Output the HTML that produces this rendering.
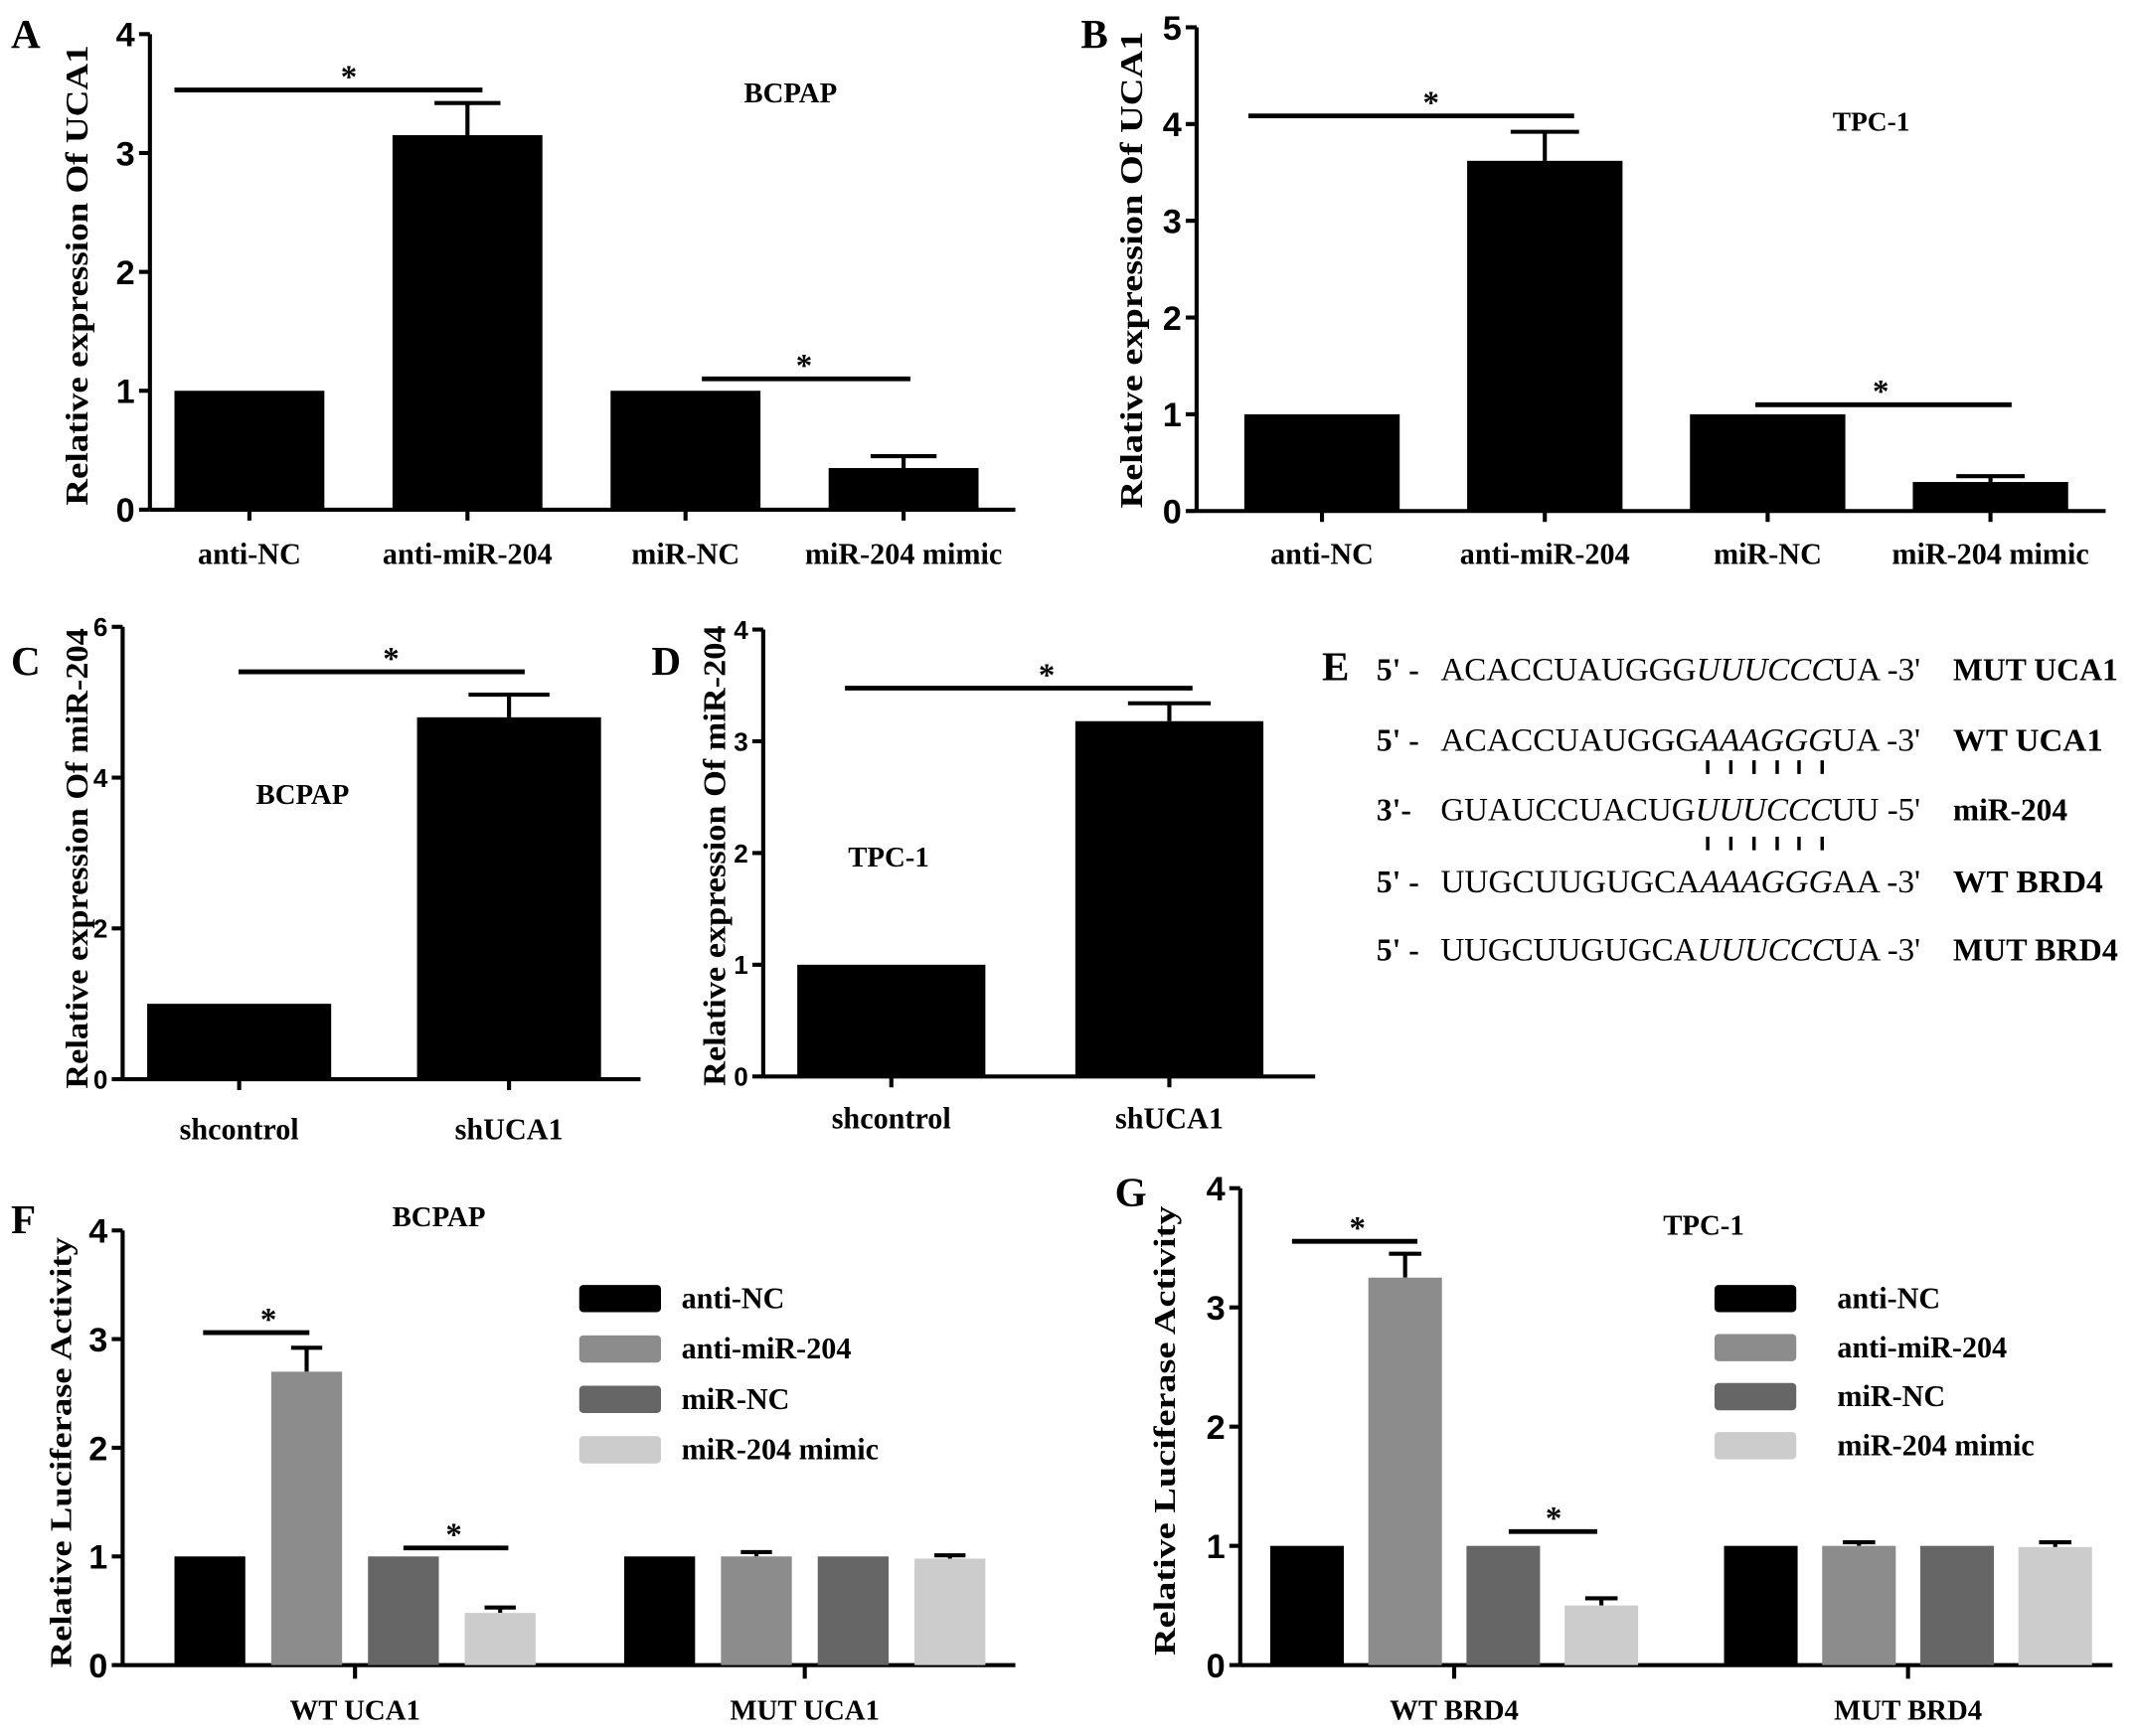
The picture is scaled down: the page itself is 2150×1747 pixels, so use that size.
<!DOCTYPE html>
<html><head><meta charset="utf-8"><style>
html,body{margin:0;padding:0;background:#fff}
svg{display:block}
text{font-family:"Liberation Serif",serif;font-weight:bold;fill:#000}
</style></head><body>
<svg id="fig" width="2150" height="1747" viewBox="0 0 1568 1274" xmlns="http://www.w3.org/2000/svg">
<g>
<text x="970" y="499" font-size="30">E</text>
<g font-size="23">
<text x="1010" y="499">5' -</text>
<text class="seq" data-w="352" transform="translate(1057,499)" font-size="24" style="font-weight:normal">ACACCUAUGGG<tspan font-style="italic">UUUCCC</tspan>UA -3'</text>
<text class="seq" data-w="121" transform="translate(1433,499)">MUT UCA1</text>
<text x="1010" y="551">5' -</text>
<text class="seq" data-w="352" transform="translate(1057,551)" font-size="24" style="font-weight:normal">ACACCUAUGGG<tspan font-style="italic">AAAGGG</tspan>UA -3'</text>
<text class="seq" data-w="110" transform="translate(1433,551)">WT  UCA1</text>
<text x="1010" y="602">3'-</text>
<text class="seq" data-w="352" transform="translate(1057,602)" font-size="24" style="font-weight:normal">GUAUCCUACUG<tspan font-style="italic">UUUCCC</tspan>UU -5'</text>
<text class="seq" data-w="84" transform="translate(1433,602)">miR-204</text>
<text x="1010" y="655">5' -</text>
<text class="seq" data-w="352" transform="translate(1057,655)" font-size="24" style="font-weight:normal">UUGCUUGUGCA<tspan font-style="italic">AAAGGG</tspan>AA -3'</text>
<text class="seq" data-w="110" transform="translate(1433,655)">WT  BRD4</text>
<text x="1010" y="705">5' -</text>
<text class="seq" data-w="352" transform="translate(1057,705)" font-size="24" style="font-weight:normal">UUGCUUGUGCA<tspan font-style="italic">UUUCCC</tspan>UA -3'</text>
<text class="seq" data-w="121" transform="translate(1433,705)">MUT BRD4</text>
</g>
<g stroke="#000" stroke-width="2.5">
<path d="M1253 558v10M1270 558v10M1287 558v10M1304 558v10M1320 558v10M1337 558v10M1253 614v10M1270 614v10M1287 614v10M1304 614v10M1320 614v10M1337 614v10"/>
</g>
</g>
</svg>
<script>
// Panel A data
const aCats=["anti-NC","anti-miR-204","miR-NC","miR-204 mimic"];
const aVals=[1,3.15,1,0.35];
const aErr=[0,3.42,0,0.45];
const aTicks=[0,1,2,3,4];
// Panel B data
const bCats=["anti-NC","anti-miR-204","miR-NC","miR-204 mimic"];
const bVals=[1,3.62,1,0.3];
const bErr=[0,3.92,0,0.36];
const bTicks=[0,1,2,3,4,5];
// Panel C data
const cCats=["shcontrol","shUCA1"];
const cVals=[1,4.8];
const cErr=[0,5.1];
const cTicks=[0,2,4,6];
// Panel D data
const dCats=["shcontrol","shUCA1"];
const dVals=[1,3.18];
const dErr=[0,3.34];
const dTicks=[0,1,2,3,4];
// Panel F data
const fGroups=["WT UCA1","MUT UCA1"];
const fSeries=["anti-NC","anti-miR-204","miR-NC","miR-204 mimic"];
const fVals=[[1,2.7,1,0.48],[1,1.0,1,0.98]];
const fErr=[[0,2.92,0,0.53],[0,1.04,0,1.01]];
const fTicks=[0,1,2,3,4];
// Panel G data
const gGroups=["WT BRD4","MUT BRD4"];
const gSeries=["anti-NC","anti-miR-204","miR-NC","miR-204 mimic"];
const gVals=[[1,3.25,1,0.5],[1,1.0,1,0.99]];
const gErr=[[0,3.45,0,0.56],[0,1.03,0,1.03]];
const gTicks=[0,1,2,3,4];

const NS="http://www.w3.org/2000/svg";
const svg=document.getElementById('fig');
document.querySelectorAll('text.seq').forEach(t=>{
  const w=t.getComputedTextLength();
  const tr=t.getAttribute('transform');
  const target=parseFloat(t.getAttribute('data-w'));
  if(w>0)t.setAttribute('transform',tr+` scale(${target/w},1)`);
});
function mk(tag,attrs,parent,txt){const e=document.createElementNS(NS,tag);for(const k in attrs)e.setAttribute(k,attrs[k]);if(txt!==undefined)e.textContent=txt;(parent||svg).appendChild(e);return e;}
const colors=["#000","#8c8c8c","#666","#cccccc"];

function axis(g,P,ticks){
  const ys=v=>P.y0-(v-ticks[0])/(ticks[ticks.length-1]-ticks[0])*(P.y0-P.yTop);
  const yl=mk('line',{x1:P.ax,x2:P.ax,y1:P.y0,y2:P.yTop,stroke:'#000','stroke-width':3},g);
  
  
  const xl=mk('line',{x1:P.ax,x2:P.xEnd,y1:P.y0,y2:P.y0,stroke:'#000','stroke-width':3},g);
  
  
  ticks.forEach(t=>{
    const y=ys(t);
    const tl=mk('line',{x1:P.ax-8,x2:P.ax,y1:y,y2:y,stroke:'#000','stroke-width':3},g);
    
    
    const tx=mk('text',{x:P.ax-11,y:y+(P.tfs||25)*0.36,'text-anchor':'end','font-size':P.tfs||25,style:'font-family:"Liberation Sans",sans-serif'},g,String(t));
    
    
  });
  const lab=mk('text',{transform:`translate(${P.lx},${P.lcy}) rotate(-90)`,'text-anchor':'middle','font-size':P.lfs||23,textLength:P.llen,lengthAdjust:'spacingAndGlyphs'},g,P.ylabel);
  
  
  const pl=mk('text',{x:P.px,y:P.py,'font-size':30},g,P.letter);
  
  
  if(P.title){const t=mk('text',{x:P.tx,y:P.ty,'text-anchor':'middle','font-size':P.tts||21},g,P.title);
    
    }
  return ys;
}
function bar(g,x,w,v,e,ys,col){
  if(e>v){const cx=x+w/2;
    const el=mk('path',{d:`M${cx} ${ys(v)}V${ys(e)}M${cx-w*0.22} ${ys(e)}H${cx+w*0.22}`,stroke:'#000','stroke-width':3,fill:'none'},g);
    
    }
  const r=mk('rect',{x:x,y:ys(v),width:w,height:ys(0)-ys(v),fill:col},g);
  
  
}
function sig(g,x1,x2,y,sx){
  const l=mk('line',{x1:x1,x2:x2,y1:y,y2:y,stroke:'#000','stroke-width':3.5},g);
  
  
  const s=mk('text',{x:sx,y:y-2,'text-anchor':'middle','font-size':24},g,'*');
  
  
}
function simple(P,cats,vals,errs,ticks,sigs){
  const g=mk('g',{});
  
  
  const ys=axis(g,P,ticks);
  cats.forEach((c,i)=>{
    const x=P.x0+i*P.step;
    bar(g,x,P.bw,vals[i],errs[i],ys,'#000');
    const xt=mk('line',{x1:x+P.bw/2,x2:x+P.bw/2,y1:P.y0,y2:P.y0+8,stroke:'#000','stroke-width':3},g);
    
    
    const t=mk('text',{x:x+P.bw/2,y:P.cly,'text-anchor':'middle','font-size':22},g,c);
    
    
  });
  sigs.forEach(s=>sig(g,s[0],s[1],s[2],s[3]));
}
function grouped(P,groups,series,vals,errs,ticks,sigs){
  const g=mk('g',{});
  
  
  const ys=axis(g,P,ticks);
  groups.forEach((gr,gi)=>{
    series.forEach((s,si)=>{
      const x=P.gx[gi]+si*P.step;
      bar(g,x,P.bw,vals[gi][si],errs[gi][si],ys,colors[si]);
    });
    const cx=P.gx[gi]+(3*P.step+P.bw)/2;
    const xt=mk('line',{x1:cx,x2:cx,y1:P.y0,y2:P.y0+10,stroke:'#000','stroke-width':3},g);
    
    
    const t=mk('text',{x:cx,y:P.cly,'text-anchor':'middle','font-size':21},g,gr);
    
    
  });
  series.forEach((s,si)=>{
    const y=P.legY+si*P.legStep;
    const r=mk('rect',{x:P.legX,y:y,width:60,height:20,rx:3,fill:colors[si]},g);
    
    
    const t=mk('text',{x:P.legX+P.legTx,y:y+17,'font-size':22},g,s);
    
    
  });
  sigs.forEach(s=>sig(g,s[0],s[1],s[2],s[3]));
}
simple({letter:'A',px:8,py:35,ax:110,xEnd:745,y0:374,yTop:25,x0:128,step:160,bw:110,cly:414,lx:64,lcy:202,llen:338,ylabel:'Relative expression Of UCA1',title:'BCPAP',tx:580,ty:75},aCats,aVals,aErr,aTicks,[[128,354,66,256],[515,668,278,590]]);
simple({letter:'B',px:793,py:35,ax:878,xEnd:1545,y0:375,yTop:20,x0:913,step:163.5,bw:114,cly:414,lx:838,lcy:198,llen:350,ylabel:'Relative expression Of UCA1',title:'TPC-1',tx:1373,ty:96,tts:20},bCats,bVals,bErr,bTicks,[[916,1155,85,1050],[1288,1476,297,1380]]);
simple({letter:'C',px:8,py:495,ax:90,xEnd:470,y0:792,yTop:460,x0:108,step:198,bw:135,cly:836,lx:64,lcy:630,llen:338,ylabel:'Relative expression Of miR-204',title:'BCPAP',tx:222,ty:590,tfs:19},cCats,cVals,cErr,cTicks,[[175,385,493,287]]);
simple({letter:'D',px:478,py:495,ax:560,xEnd:965,y0:790,yTop:462,x0:585,step:204,bw:138,cly:828,lx:532,lcy:628,llen:338,ylabel:'Relative expression Of miR-204',title:'TPC-1',tx:652,ty:636,tfs:19},dCats,dVals,dErr,dTicks,[[620,875,505,768]]);
grouped({letter:'F',px:8,py:905,ax:90,xEnd:745,y0:1222,yTop:903,gx:[128,458],step:71,bw:52,cly:1262,lx:52,lcy:1066,lfs:22,llen:316,ylabel:'Relative Luciferase Activity',title:'BCPAP',tx:322,ty:900,legX:425,legY:943,legStep:37,legTx:75},fGroups,fSeries,fVals,fErr,fTicks,[[149,227,978,197],[296,373,1136,333]]);
grouped({letter:'G',px:818,py:885,ax:910,xEnd:1550,y0:1222,yTop:872,gx:[932,1265],step:72,bw:54,cly:1262,lx:862,lcy:1050,lfs:22,llen:330,ylabel:'Relative Luciferase Activity',title:'TPC-1',tx:1250,ty:906,legX:1258,legY:943,legStep:36,legTx:90},gGroups,gSeries,gVals,gErr,gTicks,[[948,1040,911,996],[1107,1172,1124,1140]]);
</script>
</body></html>
